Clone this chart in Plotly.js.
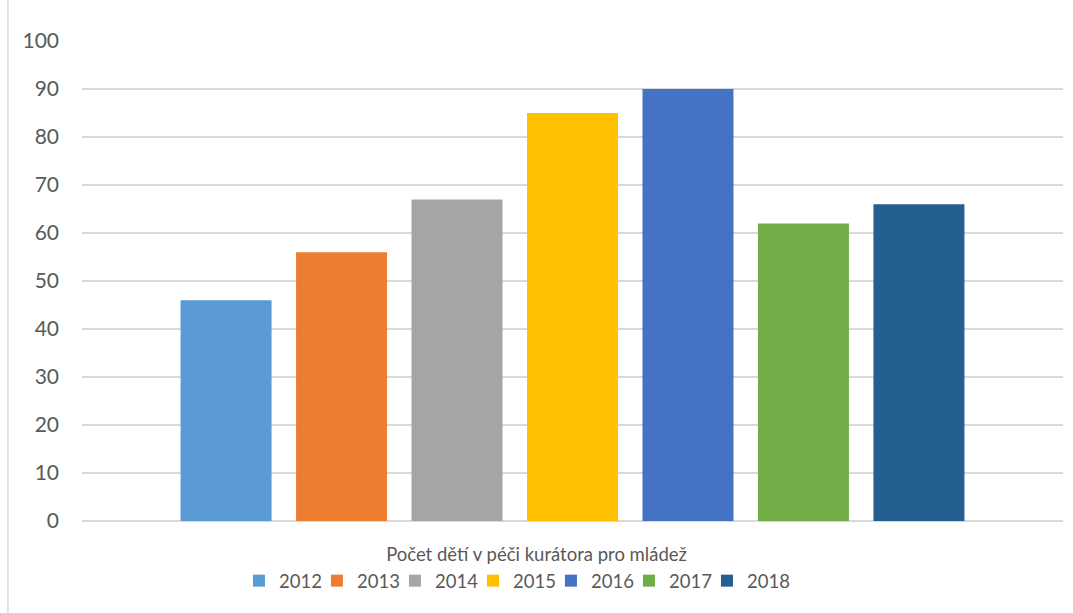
<!DOCTYPE html>
<html>
<head>
<meta charset="utf-8">
<script src="https://cdn.plot.ly/plotly-3.0.1.min.js"></script>
<style>html,body{margin:0;padding:0;background:#fff;}#chart{width:1073px;height:613px;}</style>
</head>
<body>
<div id="chart"></div>
<script>
const category = ["Počet dětí v péči kurátora pro mládež"];
const years = ["2012", "2013", "2014", "2015", "2016", "2017", "2018"];
const values = [46, 56, 67, 85, 90, 62, 66];
const colors = ["#5B9BD5", "#ED7D31", "#A5A5A5", "#FFC000", "#4472C4", "#70AD47", "#255E91"];
const yTicks = [0, 10, 20, 30, 40, 50, 60, 70, 80, 90, 100];

const traces = years.map((y, i) => ({
  type: "bar",
  name: y,
  x: category,
  y: [values[i]],
  marker: {color: colors[i]},
  hoverinfo: "name+y"
}));

const font = "Lato, Open Sans, sans-serif";
const layout = {
  width: 1073, height: 613,
  margin: {l: 82, r: 10, t: 41, b: 92},
  paper_bgcolor: "#fff", plot_bgcolor: "#fff",
  barmode: "group",
  bargap: 0.176,
  bargroupgap: 0.212,
  font: {family: font, color: "#595959", size: 18},
  xaxis: {
    type: "category",
    showgrid: false, showline: false, zeroline: false,
    ticks: "", ticklabelstandoff: 20, ticklabelshift: -36,
    tickfont: {family: font, size: 18.5, color: "#595959"}
  },
  yaxis: {
    range: [0, 100],
    tickvals: yTicks,
    ticktext: yTicks.map(String),
    showgrid: true, gridcolor: "#D9D9D9", gridwidth: 1.5,
    zeroline: true, zerolinecolor: "#D9D9D9", zerolinewidth: 1.5,
    showline: false, ticks: "", ticklabelstandoff: 22,
    tickfont: {family: font, size: 21, color: "#595959"}
  },
  legend: {
    orientation: "h",
    xref: "container", x: 0.2227, xanchor: "left",
    yref: "container", y: 0.052, yanchor: "middle",
    bgcolor: "rgba(0,0,0,0)",
    font: {family: font, size: 18.5, color: "#595959"},
    itemwidth: 30,
    entrywidth: 33,
    traceorder: "normal"
  },
  shapes: [{
    type: "line", xref: "paper", yref: "paper",
    x0: -0.0755, x1: -0.0755, y0: -0.2, y1: 1.1,
    line: {color: "#D9D9D9", width: 1.5}
  }],
  showlegend: true
};

Plotly.newPlot("chart", traces, layout, {displayModeBar: false, staticPlot: true}).then(gd => {
  gd.querySelectorAll(".legend [clip-path]").forEach(el => el.removeAttribute("clip-path"));
});
</script>
</body>
</html>
